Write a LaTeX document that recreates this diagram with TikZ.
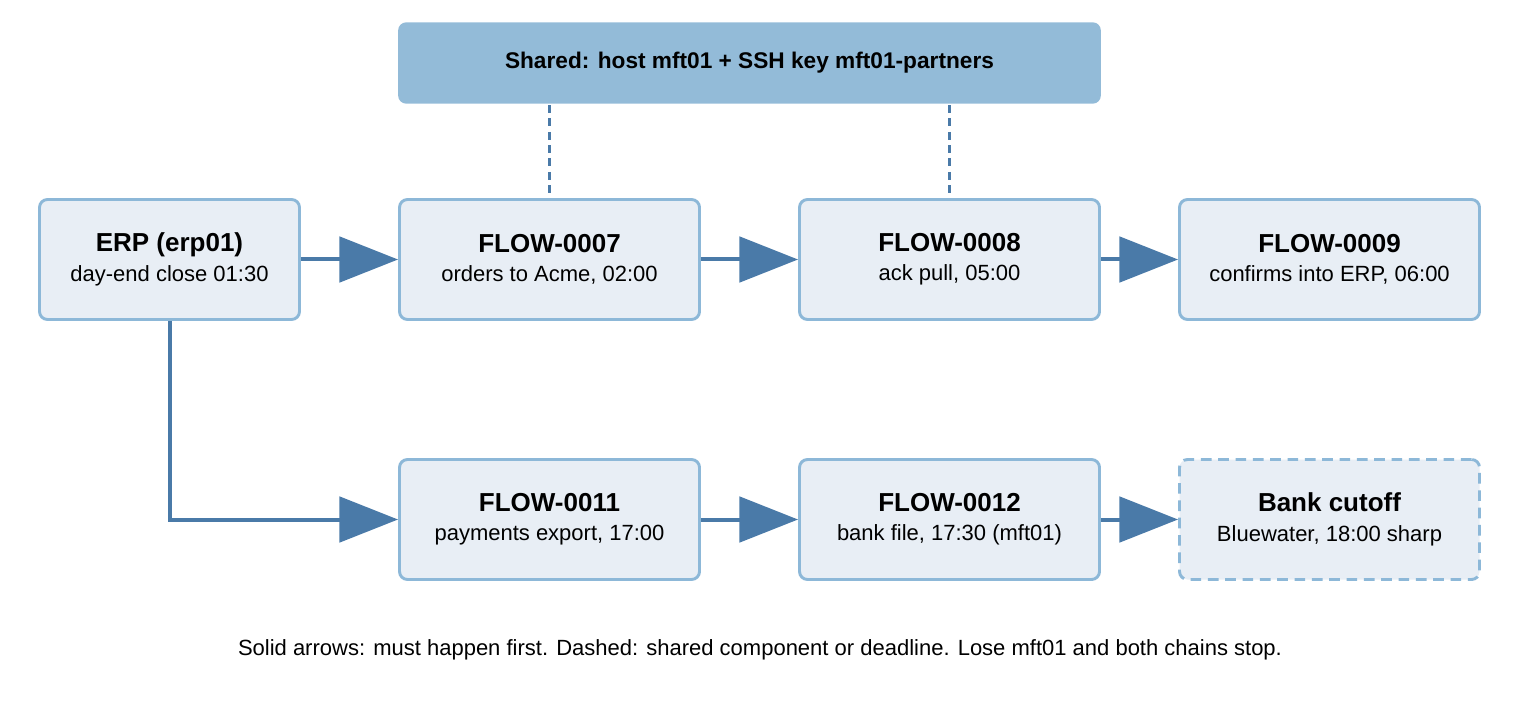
\documentclass[tikz,border=0pt]{standalone}
\usepackage{fontspec}
\setmainfont{Liberation Sans}
\usetikzlibrary{arrows.meta}
\definecolor{boxfill}{HTML}{E8EEF5}
\definecolor{boxline}{HTML}{8DB8D8}
\definecolor{arr}{HTML}{4A7AA8}
\definecolor{shared}{HTML}{93BBD8}
\begin{document}
\begin{tikzpicture}[x=0.75pt,y=-0.75pt,
  box/.style={draw=boxline,line width=2.2pt,fill=boxfill,rounded corners=6pt,minimum width=225pt,minimum height=90pt,align=center,font=\fontsize{16.5}{22}\selectfont,inner sep=2pt},
  arrow/.style={draw=arr,line width=3pt,-{Triangle[length=44pt,width=34pt]}},
  dsh/.style={draw=arr,line width=2.2pt,dash pattern=on 6pt off 4pt}]
\useasboundingbox (0,0) rectangle (1520,720);
\node[box,fill=shared,draw=none,minimum width=527pt,minimum height=61pt,font=\fontsize{17}{22}\selectfont\bfseries] (sh) at (749.5,63) {Shared: host mft01 + SSH key mft01-partners};
\node[box,minimum width=195pt] (erp) at (169.5,259.5) {{\fontsize{19.5}{26}\selectfont\bfseries ERP (erp01)}\\day-end close 01:30};
\node[box] (f7) at (549.5,259.5) {{\fontsize{19.5}{26}\selectfont\bfseries FLOW-0007}\\orders to Acme, 02:00};
\node[box] (f8) at (949.5,259.5) {{\fontsize{19.5}{26}\selectfont\bfseries FLOW-0008}\\ack pull, 05:00};
\node[box] (f9) at (1329.5,259.5) {{\fontsize{19.5}{26}\selectfont\bfseries FLOW-0009}\\confirms into ERP, 06:00};
\node[box] (f11) at (549.5,519.5) {{\fontsize{19.5}{26}\selectfont\bfseries FLOW-0011}\\payments export, 17:00};
\node[box] (f12) at (949.5,519.5) {{\fontsize{19.5}{26}\selectfont\bfseries FLOW-0012}\\bank file, 17:30 (mft01)};
\node[box,dash pattern=on 8pt off 5pt] (bank) at (1329.5,519.5) {{\fontsize{19.5}{26}\selectfont\bfseries Bank cutoff}\\Bluewater, 18:00 sharp};
\draw[dsh] (sh.south -| f7) -- (f7);
\draw[dsh] (sh.south -| f8) -- (f8);
\draw[arrow] (erp) -- (f7);
\draw[arrow] (f7) -- (f8);
\draw[arrow] (f8) -- (f9);
\draw[arrow] (f11) -- (f12);
\draw[arrow] (f12) -- (bank);
\draw[arrow] (erp.south) |- (f11.west);
\node[font=\fontsize{16.5}{22}\selectfont] (cap) at (760,650) {Solid arrows: must happen first. Dashed: shared component or deadline. Lose mft01 and both chains stop.};
\end{tikzpicture}
\end{document}
